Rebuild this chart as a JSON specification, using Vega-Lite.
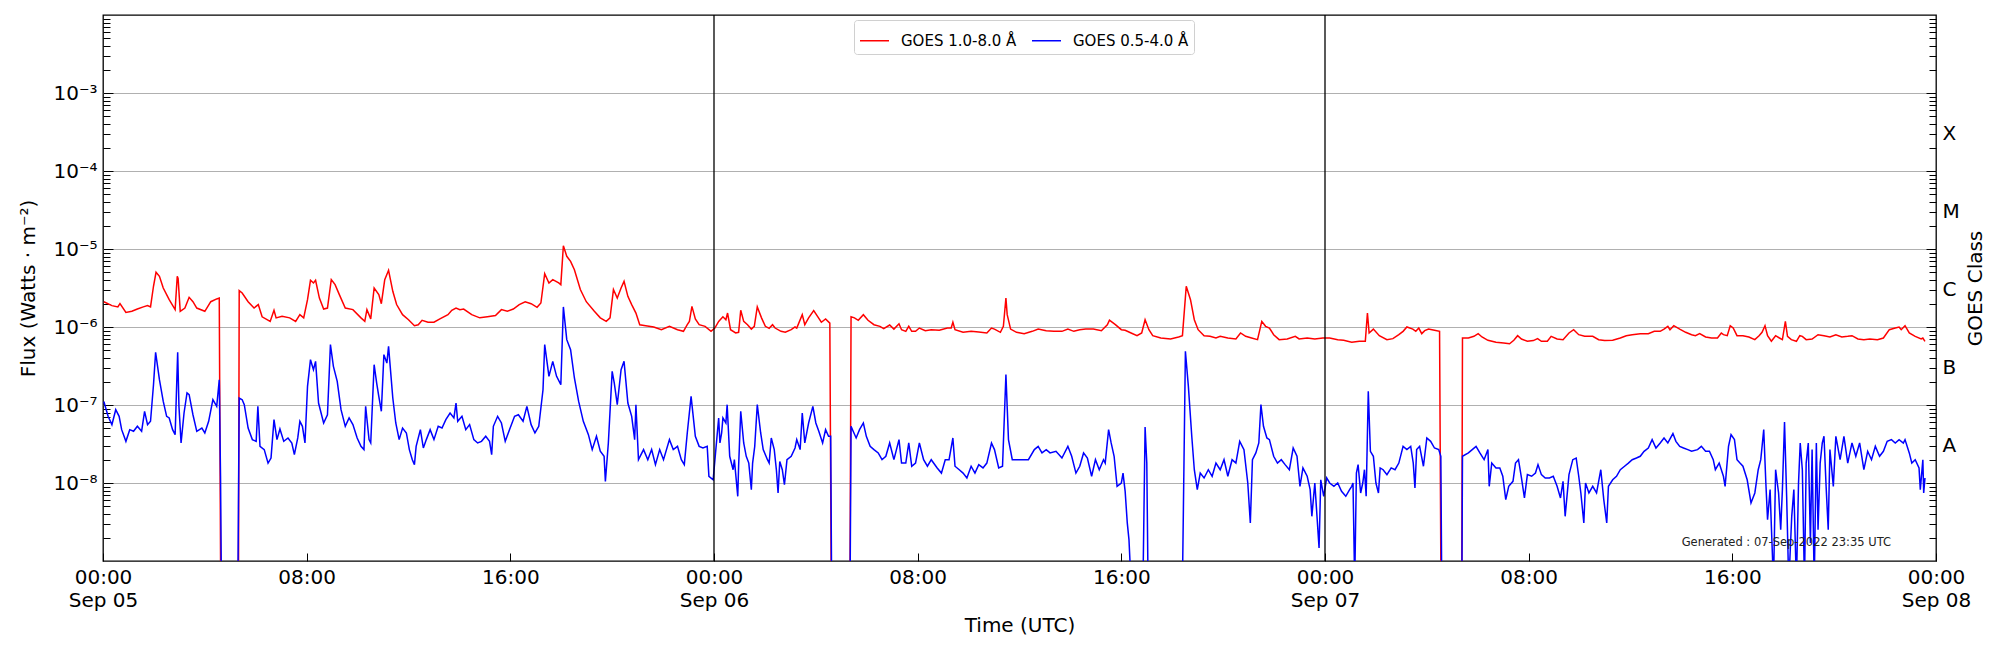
{
  "$schema": "https://vega.github.io/schema/vega-lite/v6.json",
  "width": 1833,
  "height": 546,
  "autosize": {"type": "none"},
  "padding": {"left": 103, "top": 15, "right": 64, "bottom": 89},
  "background": "white",
  "datasets": {
    "long": [
      {"t":"2022-09-05T00:02Z","f":2.11e-6},{"t":"2022-09-05T00:21Z","f":1.88e-6},{"t":"2022-09-05T00:35Z","f":1.81e-6},{"t":"2022-09-05T00:40Z","f":1.99e-6},
      {"t":"2022-09-05T00:54Z","f":1.54e-6},{"t":"2022-09-05T01:08Z","f":1.59e-6},{"t":"2022-09-05T01:21Z","f":1.70e-6},{"t":"2022-09-05T01:35Z","f":1.81e-6},
      {"t":"2022-09-05T01:45Z","f":1.88e-6},{"t":"2022-09-05T01:52Z","f":1.81e-6},{"t":"2022-09-05T01:59Z","f":3.33e-6},{"t":"2022-09-05T02:05Z","f":5.03e-6},
      {"t":"2022-09-05T02:13Z","f":4.47e-6},{"t":"2022-09-05T02:22Z","f":3.16e-6},{"t":"2022-09-05T02:36Z","f":2.24e-6},{"t":"2022-09-05T02:50Z","f":1.67e-6},
      {"t":"2022-09-05T02:55Z","f":4.47e-6},{"t":"2022-09-05T02:57Z","f":4.2e-6},{"t":"2022-09-05T03:02Z","f":1.59e-6},{"t":"2022-09-05T03:13Z","f":1.75e-6},
      {"t":"2022-09-05T03:23Z","f":2.40e-6},{"t":"2022-09-05T03:32Z","f":2.11e-6},{"t":"2022-09-05T03:41Z","f":1.75e-6},{"t":"2022-09-05T04:00Z","f":1.59e-6},
      {"t":"2022-09-05T04:14Z","f":2.11e-6},{"t":"2022-09-05T04:28Z","f":2.29e-6},{"t":"2022-09-05T04:34Z","f":2.35e-6},{"t":"2022-09-05T04:38Z","f":1e-10},
      {"t":"2022-09-05T05:19Z","f":1e-10},{"t":"2022-09-05T05:21Z","f":2.93e-6},{"t":"2022-09-05T05:28Z","f":2.73e-6},{"t":"2022-09-05T05:42Z","f":2.11e-6},
      {"t":"2022-09-05T05:56Z","f":1.75e-6},{"t":"2022-09-05T06:06Z","f":1.94e-6},{"t":"2022-09-05T06:15Z","f":1.35e-6},{"t":"2022-09-05T06:34Z","f":1.18e-6},
      {"t":"2022-09-05T06:43Z","f":1.64e-6},{"t":"2022-09-05T06:48Z","f":1.31e-6},{"t":"2022-09-05T07:02Z","f":1.37e-6},{"t":"2022-09-05T07:20Z","f":1.31e-6},
      {"t":"2022-09-05T07:34Z","f":1.18e-6},{"t":"2022-09-05T07:44Z","f":1.44e-6},{"t":"2022-09-05T07:53Z","f":1.31e-6},{"t":"2022-09-05T08:02Z","f":2.24e-6},
      {"t":"2022-09-05T08:09Z","f":3.97e-6},{"t":"2022-09-05T08:16Z","f":3.67e-6},{"t":"2022-09-05T08:21Z","f":3.97e-6},{"t":"2022-09-05T08:30Z","f":2.35e-6},
      {"t":"2022-09-05T08:40Z","f":1.70e-6},{"t":"2022-09-05T08:49Z","f":1.75e-6},{"t":"2022-09-05T08:58Z","f":4.05e-6},{"t":"2022-09-05T09:07Z","f":3.49e-6},
      {"t":"2022-09-05T09:17Z","f":2.60e-6},{"t":"2022-09-05T09:31Z","f":1.75e-6},{"t":"2022-09-05T09:49Z","f":1.67e-6},{"t":"2022-09-05T10:08Z","f":1.31e-6},
      {"t":"2022-09-05T10:17Z","f":1.18e-6},{"t":"2022-09-05T10:22Z","f":1.67e-6},{"t":"2022-09-05T10:31Z","f":1.27e-6},{"t":"2022-09-05T10:39Z","f":3.16e-6},
      {"t":"2022-09-05T10:50Z","f":2.60e-6},{"t":"2022-09-05T10:56Z","f":1.99e-6},{"t":"2022-09-05T11:04Z","f":4.05e-6},{"t":"2022-09-05T11:13Z","f":5.33e-6},
      {"t":"2022-09-05T11:23Z","f":2.87e-6},{"t":"2022-09-05T11:32Z","f":1.94e-6},{"t":"2022-09-05T11:46Z","f":1.44e-6},{"t":"2022-09-05T12:00Z","f":1.24e-6},
      {"t":"2022-09-05T12:14Z","f":1.04e-6},{"t":"2022-09-05T12:23Z","f":1.07e-6},{"t":"2022-09-05T12:32Z","f":1.22e-6},{"t":"2022-09-05T12:46Z","f":1.15e-6},
      {"t":"2022-09-05T13:00Z","f":1.15e-6},{"t":"2022-09-05T13:14Z","f":1.27e-6},{"t":"2022-09-05T13:33Z","f":1.44e-6},{"t":"2022-09-05T13:42Z","f":1.64e-6},
      {"t":"2022-09-05T13:52Z","f":1.75e-6},{"t":"2022-09-05T14:01Z","f":1.67e-6},{"t":"2022-09-05T14:10Z","f":1.70e-6},{"t":"2022-09-05T14:29Z","f":1.44e-6},
      {"t":"2022-09-05T14:48Z","f":1.31e-6},{"t":"2022-09-05T15:06Z","f":1.35e-6},{"t":"2022-09-05T15:25Z","f":1.40e-6},{"t":"2022-09-05T15:39Z","f":1.67e-6},
      {"t":"2022-09-05T15:53Z","f":1.59e-6},{"t":"2022-09-05T16:07Z","f":1.70e-6},{"t":"2022-09-05T16:21Z","f":1.94e-6},{"t":"2022-09-05T16:35Z","f":2.11e-6},
      {"t":"2022-09-05T16:49Z","f":1.99e-6},{"t":"2022-09-05T17:03Z","f":1.79e-6},{"t":"2022-09-05T17:12Z","f":2.03e-6},{"t":"2022-09-05T17:21Z","f":4.83e-6},
      {"t":"2022-09-05T17:31Z","f":3.67e-6},{"t":"2022-09-05T17:40Z","f":4.05e-6},{"t":"2022-09-05T17:54Z","f":3.67e-6},{"t":"2022-09-05T17:59Z","f":3.49e-6},
      {"t":"2022-09-05T18:05Z","f":1.10e-5},{"t":"2022-09-05T18:13Z","f":8.06e-6},{"t":"2022-09-05T18:22Z","f":6.95e-6},{"t":"2022-09-05T18:31Z","f":5.43e-6},
      {"t":"2022-09-05T18:45Z","f":3.02e-6},{"t":"2022-09-05T18:59Z","f":2.11e-6},{"t":"2022-09-05T19:18Z","f":1.59e-6},{"t":"2022-09-05T19:32Z","f":1.31e-6},
      {"t":"2022-09-05T19:46Z","f":1.18e-6},{"t":"2022-09-05T19:55Z","f":1.31e-6},{"t":"2022-09-05T20:03Z","f":3.02e-6},{"t":"2022-09-05T20:12Z","f":2.35e-6},
      {"t":"2022-09-05T20:21Z","f":3.16e-6},{"t":"2022-09-05T20:28Z","f":3.85e-6},{"t":"2022-09-05T20:37Z","f":2.47e-6},{"t":"2022-09-05T20:46Z","f":1.94e-6},
      {"t":"2022-09-05T20:56Z","f":1.51e-6},{"t":"2022-09-05T21:05Z","f":1.07e-6},{"t":"2022-09-05T21:19Z","f":1.04e-6},{"t":"2022-09-05T21:38Z","f":1.00e-6},
      {"t":"2022-09-05T21:56Z","f":9.24e-7},{"t":"2022-09-05T22:15Z","f":1.02e-6},{"t":"2022-09-05T22:34Z","f":9.24e-7},{"t":"2022-09-05T22:48Z","f":8.8e-7},
      {"t":"2022-09-05T22:57Z","f":1.07e-6},{"t":"2022-09-05T23:02Z","f":1.18e-6},{"t":"2022-09-05T23:08Z","f":1.84e-6},{"t":"2022-09-05T23:16Z","f":1.27e-6},
      {"t":"2022-09-05T23:25Z","f":1.07e-6},{"t":"2022-09-05T23:39Z","f":1.02e-6},{"t":"2022-09-05T23:53Z","f":8.8e-7},{"t":"2022-09-06T00:02Z","f":9.7e-7},
      {"t":"2022-09-06T00:11Z","f":1.18e-6},{"t":"2022-09-06T00:21Z","f":1.35e-6},{"t":"2022-09-06T00:28Z","f":1.24e-6},{"t":"2022-09-06T00:32Z","f":1.51e-6},
      {"t":"2022-09-06T00:39Z","f":9.24e-7},{"t":"2022-09-06T00:51Z","f":8.38e-7},{"t":"2022-09-06T00:58Z","f":8.55e-7},{"t":"2022-09-06T01:03Z","f":1.64e-6},
      {"t":"2022-09-06T01:10Z","f":1.18e-6},{"t":"2022-09-06T01:19Z","f":1.07e-6},{"t":"2022-09-06T01:28Z","f":9.4e-7},{"t":"2022-09-06T01:35Z","f":1.02e-6},
      {"t":"2022-09-06T01:42Z","f":1.81e-6},{"t":"2022-09-06T01:52Z","f":1.31e-6},{"t":"2022-09-06T02:01Z","f":1.02e-6},{"t":"2022-09-06T02:10Z","f":9.6e-7},
      {"t":"2022-09-06T02:18Z","f":1.07e-6},{"t":"2022-09-06T02:24Z","f":9.7e-7},{"t":"2022-09-06T02:38Z","f":8.8e-7},{"t":"2022-09-06T02:48Z","f":8.55e-7},
      {"t":"2022-09-06T03:02Z","f":9.24e-7},{"t":"2022-09-06T03:11Z","f":1.0e-6},{"t":"2022-09-06T03:15Z","f":9.7e-7},{"t":"2022-09-06T03:28Z","f":1.44e-6},
      {"t":"2022-09-06T03:34Z","f":1.07e-6},{"t":"2022-09-06T03:43Z","f":1.31e-6},{"t":"2022-09-06T03:55Z","f":1.62e-6},{"t":"2022-09-06T04:04Z","f":1.37e-6},
      {"t":"2022-09-06T04:13Z","f":1.15e-6},{"t":"2022-09-06T04:23Z","f":1.27e-6},{"t":"2022-09-06T04:33Z","f":1.12e-6},{"t":"2022-09-06T04:37Z","f":1e-10},
      {"t":"2022-09-06T05:20Z","f":1e-10},{"t":"2022-09-06T05:23Z","f":1.35e-6},{"t":"2022-09-06T05:31Z","f":1.31e-6},{"t":"2022-09-06T05:40Z","f":1.22e-6},
      {"t":"2022-09-06T05:52Z","f":1.44e-6},{"t":"2022-09-06T06:03Z","f":1.22e-6},{"t":"2022-09-06T06:17Z","f":1.07e-6},{"t":"2022-09-06T06:31Z","f":1.02e-6},
      {"t":"2022-09-06T06:40Z","f":9.5e-7},{"t":"2022-09-06T06:54Z","f":1.06e-6},{"t":"2022-09-06T07:04Z","f":9.4e-7},{"t":"2022-09-06T07:16Z","f":1.10e-6},
      {"t":"2022-09-06T07:22Z","f":9.24e-7},{"t":"2022-09-06T07:32Z","f":8.8e-7},{"t":"2022-09-06T07:39Z","f":1.02e-6},{"t":"2022-09-06T07:46Z","f":8.8e-7},
      {"t":"2022-09-06T07:55Z","f":8.8e-7},{"t":"2022-09-06T08:04Z","f":9.7e-7},{"t":"2022-09-06T08:18Z","f":8.97e-7},{"t":"2022-09-06T08:32Z","f":9.24e-7},
      {"t":"2022-09-06T08:51Z","f":9.06e-7},{"t":"2022-09-06T09:10Z","f":9.7e-7},{"t":"2022-09-06T09:19Z","f":9.7e-7},{"t":"2022-09-06T09:23Z","f":1.15e-6},
      {"t":"2022-09-06T09:28Z","f":9.24e-7},{"t":"2022-09-06T09:47Z","f":8.55e-7},{"t":"2022-09-06T10:06Z","f":8.8e-7},{"t":"2022-09-06T10:24Z","f":8.6e-7},
      {"t":"2022-09-06T10:43Z","f":8.38e-7},{"t":"2022-09-06T10:54Z","f":9.7e-7},{"t":"2022-09-06T11:01Z","f":9.4e-7},{"t":"2022-09-06T11:15Z","f":8.55e-7},
      {"t":"2022-09-06T11:22Z","f":1.02e-6},{"t":"2022-09-06T11:28Z","f":2.35e-6},{"t":"2022-09-06T11:31Z","f":1.44e-6},{"t":"2022-09-06T11:39Z","f":9.4e-7},
      {"t":"2022-09-06T11:53Z","f":8.55e-7},{"t":"2022-09-06T12:11Z","f":8.22e-7},{"t":"2022-09-06T12:30Z","f":8.8e-7},{"t":"2022-09-06T12:44Z","f":9.4e-7},
      {"t":"2022-09-06T13:03Z","f":8.97e-7},{"t":"2022-09-06T13:21Z","f":8.8e-7},{"t":"2022-09-06T13:40Z","f":8.8e-7},{"t":"2022-09-06T13:54Z","f":9.4e-7},
      {"t":"2022-09-06T14:08Z","f":8.8e-7},{"t":"2022-09-06T14:22Z","f":9.24e-7},{"t":"2022-09-06T14:36Z","f":9.4e-7},{"t":"2022-09-06T14:54Z","f":9.4e-7},
      {"t":"2022-09-06T15:13Z","f":8.97e-7},{"t":"2022-09-06T15:27Z","f":1.07e-6},{"t":"2022-09-06T15:32Z","f":1.22e-6},{"t":"2022-09-06T15:46Z","f":1.07e-6},
      {"t":"2022-09-06T16:00Z","f":9.24e-7},{"t":"2022-09-06T16:09Z","f":9.06e-7},{"t":"2022-09-06T16:23Z","f":8.38e-7},{"t":"2022-09-06T16:37Z","f":7.74e-7},
      {"t":"2022-09-06T16:48Z","f":8.38e-7},{"t":"2022-09-06T16:56Z","f":1.24e-6},{"t":"2022-09-06T17:05Z","f":9.24e-7},{"t":"2022-09-06T17:14Z","f":7.74e-7},
      {"t":"2022-09-06T17:33Z","f":7.23e-7},{"t":"2022-09-06T17:56Z","f":7.02e-7},{"t":"2022-09-06T18:15Z","f":7.45e-7},{"t":"2022-09-06T18:24Z","f":7.74e-7},
      {"t":"2022-09-06T18:33Z","f":3.33e-6},{"t":"2022-09-06T18:43Z","f":2.24e-6},{"t":"2022-09-06T18:52Z","f":1.24e-6},{"t":"2022-09-06T19:01Z","f":9.24e-7},
      {"t":"2022-09-06T19:15Z","f":7.74e-7},{"t":"2022-09-06T19:29Z","f":7.59e-7},{"t":"2022-09-06T19:43Z","f":7.23e-7},{"t":"2022-09-06T19:53Z","f":7.59e-7},
      {"t":"2022-09-06T20:11Z","f":7.23e-7},{"t":"2022-09-06T20:30Z","f":7.02e-7},{"t":"2022-09-06T20:41Z","f":8.38e-7},{"t":"2022-09-06T20:53Z","f":7.59e-7},
      {"t":"2022-09-06T21:07Z","f":7.23e-7},{"t":"2022-09-06T21:21Z","f":6.88e-7},{"t":"2022-09-06T21:31Z","f":1.18e-6},{"t":"2022-09-06T21:40Z","f":1.02e-6},
      {"t":"2022-09-06T21:49Z","f":9.7e-7},{"t":"2022-09-06T21:59Z","f":7.97e-7},{"t":"2022-09-06T22:12Z","f":6.88e-7},{"t":"2022-09-06T22:31Z","f":7.02e-7},
      {"t":"2022-09-06T22:50Z","f":7.59e-7},{"t":"2022-09-06T22:59Z","f":7.02e-7},{"t":"2022-09-06T23:18Z","f":7.23e-7},{"t":"2022-09-06T23:36Z","f":7.02e-7},
      {"t":"2022-09-06T23:55Z","f":7.23e-7},{"t":"2022-09-07T00:11Z","f":7.23e-7},{"t":"2022-09-07T00:30Z","f":6.88e-7},{"t":"2022-09-07T00:44Z","f":6.75e-7},
      {"t":"2022-09-07T01:03Z","f":6.37e-7},{"t":"2022-09-07T01:21Z","f":6.56e-7},{"t":"2022-09-07T01:35Z","f":6.56e-7},{"t":"2022-09-07T01:40Z","f":1.51e-6},
      {"t":"2022-09-07T01:44Z","f":8.38e-7},{"t":"2022-09-07T01:54Z","f":9.4e-7},{"t":"2022-09-07T02:08Z","f":7.74e-7},{"t":"2022-09-07T02:26Z","f":6.88e-7},
      {"t":"2022-09-07T02:40Z","f":7.09e-7},{"t":"2022-09-07T02:54Z","f":7.97e-7},{"t":"2022-09-07T03:04Z","f":8.8e-7},{"t":"2022-09-07T03:13Z","f":1.0e-6},
      {"t":"2022-09-07T03:27Z","f":9.4e-7},{"t":"2022-09-07T03:34Z","f":8.8e-7},{"t":"2022-09-07T03:41Z","f":9.7e-7},{"t":"2022-09-07T03:48Z","f":8.22e-7},
      {"t":"2022-09-07T03:55Z","f":8.97e-7},{"t":"2022-09-07T04:04Z","f":9.4e-7},{"t":"2022-09-07T04:18Z","f":9.06e-7},{"t":"2022-09-07T04:30Z","f":8.8e-7},
      {"t":"2022-09-07T04:34Z","f":1e-10},{"t":"2022-09-07T05:22Z","f":1e-10},{"t":"2022-09-07T05:24Z","f":7.23e-7},{"t":"2022-09-07T05:38Z","f":7.23e-7},
      {"t":"2022-09-07T05:51Z","f":7.59e-7},{"t":"2022-09-07T06:01Z","f":8.22e-7},{"t":"2022-09-07T06:10Z","f":7.45e-7},{"t":"2022-09-07T06:24Z","f":6.75e-7},
      {"t":"2022-09-07T06:43Z","f":6.37e-7},{"t":"2022-09-07T07:01Z","f":6.24e-7},{"t":"2022-09-07T07:15Z","f":6.1e-7},{"t":"2022-09-07T07:25Z","f":6.75e-7},
      {"t":"2022-09-07T07:34Z","f":7.74e-7},{"t":"2022-09-07T07:43Z","f":7.02e-7},{"t":"2022-09-07T07:57Z","f":6.56e-7},{"t":"2022-09-07T08:11Z","f":6.7e-7},
      {"t":"2022-09-07T08:21Z","f":7.09e-7},{"t":"2022-09-07T08:30Z","f":6.56e-7},{"t":"2022-09-07T08:44Z","f":6.56e-7},{"t":"2022-09-07T08:53Z","f":7.59e-7},
      {"t":"2022-09-07T09:07Z","f":7.02e-7},{"t":"2022-09-07T09:21Z","f":6.88e-7},{"t":"2022-09-07T09:35Z","f":8.38e-7},{"t":"2022-09-07T09:46Z","f":9.24e-7},
      {"t":"2022-09-07T09:58Z","f":7.97e-7},{"t":"2022-09-07T10:12Z","f":7.59e-7},{"t":"2022-09-07T10:31Z","f":7.59e-7},{"t":"2022-09-07T10:45Z","f":6.88e-7},
      {"t":"2022-09-07T10:59Z","f":6.7e-7},{"t":"2022-09-07T11:18Z","f":6.75e-7},{"t":"2022-09-07T11:36Z","f":7.23e-7},{"t":"2022-09-07T11:50Z","f":7.74e-7},
      {"t":"2022-09-07T12:04Z","f":7.97e-7},{"t":"2022-09-07T12:23Z","f":8.22e-7},{"t":"2022-09-07T12:42Z","f":8.22e-7},{"t":"2022-09-07T12:56Z","f":8.8e-7},
      {"t":"2022-09-07T13:10Z","f":8.8e-7},{"t":"2022-09-07T13:19Z","f":9.4e-7},{"t":"2022-09-07T13:28Z","f":1.02e-6},{"t":"2022-09-07T13:33Z","f":9.24e-7},
      {"t":"2022-09-07T13:42Z","f":1.04e-6},{"t":"2022-09-07T13:56Z","f":9.4e-7},{"t":"2022-09-07T14:10Z","f":8.55e-7},{"t":"2022-09-07T14:24Z","f":7.97e-7},
      {"t":"2022-09-07T14:33Z","f":7.74e-7},{"t":"2022-09-07T14:43Z","f":8.22e-7},{"t":"2022-09-07T14:57Z","f":7.45e-7},{"t":"2022-09-07T15:11Z","f":7.23e-7},
      {"t":"2022-09-07T15:25Z","f":7.23e-7},{"t":"2022-09-07T15:34Z","f":8.38e-7},{"t":"2022-09-07T15:39Z","f":7.97e-7},{"t":"2022-09-07T15:48Z","f":7.74e-7},
      {"t":"2022-09-07T15:55Z","f":1.04e-6},{"t":"2022-09-07T16:02Z","f":9.7e-7},{"t":"2022-09-07T16:11Z","f":7.74e-7},{"t":"2022-09-07T16:25Z","f":7.74e-7},
      {"t":"2022-09-07T16:39Z","f":7.45e-7},{"t":"2022-09-07T16:53Z","f":6.88e-7},{"t":"2022-09-07T17:03Z","f":7.74e-7},{"t":"2022-09-07T17:10Z","f":8.55e-7},
      {"t":"2022-09-07T17:17Z","f":1.04e-6},{"t":"2022-09-07T17:23Z","f":7.74e-7},{"t":"2022-09-07T17:32Z","f":6.56e-7},{"t":"2022-09-07T17:42Z","f":7.74e-7},
      {"t":"2022-09-07T17:51Z","f":7.23e-7},{"t":"2022-09-07T17:58Z","f":6.88e-7},{"t":"2022-09-07T18:05Z","f":1.18e-6},{"t":"2022-09-07T18:10Z","f":7.59e-7},
      {"t":"2022-09-07T18:19Z","f":6.88e-7},{"t":"2022-09-07T18:31Z","f":6.56e-7},{"t":"2022-09-07T18:39Z","f":7.74e-7},{"t":"2022-09-07T18:45Z","f":7.59e-7},
      {"t":"2022-09-07T18:54Z","f":6.88e-7},{"t":"2022-09-07T19:08Z","f":7.02e-7},{"t":"2022-09-07T19:22Z","f":7.97e-7},{"t":"2022-09-07T19:36Z","f":7.74e-7},
      {"t":"2022-09-07T19:50Z","f":7.45e-7},{"t":"2022-09-07T20:04Z","f":7.97e-7},{"t":"2022-09-07T20:18Z","f":7.45e-7},{"t":"2022-09-07T20:32Z","f":7.59e-7},
      {"t":"2022-09-07T20:42Z","f":7.74e-7},{"t":"2022-09-07T20:56Z","f":7.02e-7},{"t":"2022-09-07T21:10Z","f":6.88e-7},{"t":"2022-09-07T21:24Z","f":7.02e-7},
      {"t":"2022-09-07T21:42Z","f":6.88e-7},{"t":"2022-09-07T21:56Z","f":7.23e-7},{"t":"2022-09-07T22:10Z","f":9.24e-7},{"t":"2022-09-07T22:24Z","f":9.7e-7},
      {"t":"2022-09-07T22:33Z","f":1.0e-6},{"t":"2022-09-07T22:38Z","f":9.24e-7},{"t":"2022-09-07T22:47Z","f":1.04e-6},{"t":"2022-09-07T22:57Z","f":8.38e-7},
      {"t":"2022-09-07T23:11Z","f":7.59e-7},{"t":"2022-09-07T23:25Z","f":7.02e-7},{"t":"2022-09-07T23:29Z","f":7.23e-7},{"t":"2022-09-07T23:34Z","f":6.56e-7}
    ],
    "short": [
      {"t":"2022-09-05T00:02Z","f":1.11e-7},{"t":"2022-09-05T00:12Z","f":7.16e-8},{"t":"2022-09-05T00:21Z","f":5.6e-8},{"t":"2022-09-05T00:30Z","f":8.7e-8},
      {"t":"2022-09-05T00:38Z","f":7.16e-8},{"t":"2022-09-05T00:44Z","f":4.83e-8},{"t":"2022-09-05T00:54Z","f":3.42e-8},{"t":"2022-09-05T01:03Z","f":4.83e-8},
      {"t":"2022-09-05T01:12Z","f":4.6e-8},{"t":"2022-09-05T01:21Z","f":5.33e-8},{"t":"2022-09-05T01:31Z","f":4.6e-8},{"t":"2022-09-05T01:38Z","f":8.3e-8},
      {"t":"2022-09-05T01:45Z","f":5.6e-8},{"t":"2022-09-05T01:52Z","f":6.18e-8},{"t":"2022-09-05T01:59Z","f":1.82e-7},{"t":"2022-09-05T02:04Z","f":4.73e-7},
      {"t":"2022-09-05T02:13Z","f":2.11e-7},{"t":"2022-09-05T02:22Z","f":1.11e-7},{"t":"2022-09-05T02:30Z","f":7.16e-8},{"t":"2022-09-05T02:36Z","f":6.82e-8},
      {"t":"2022-09-05T02:44Z","f":4.83e-8},{"t":"2022-09-05T02:50Z","f":4.17e-8},{"t":"2022-09-05T02:56Z","f":4.73e-7},{"t":"2022-09-05T02:59Z","f":9.6e-8},
      {"t":"2022-09-05T03:04Z","f":3.26e-8},{"t":"2022-09-05T03:11Z","f":7.9e-8},{"t":"2022-09-05T03:18Z","f":1.43e-7},{"t":"2022-09-05T03:23Z","f":1.36e-7},
      {"t":"2022-09-05T03:32Z","f":7.5e-8},{"t":"2022-09-05T03:41Z","f":4.6e-8},{"t":"2022-09-05T03:53Z","f":5.07e-8},{"t":"2022-09-05T04:00Z","f":4.38e-8},
      {"t":"2022-09-05T04:09Z","f":6.18e-8},{"t":"2022-09-05T04:19Z","f":1.17e-7},{"t":"2022-09-05T04:28Z","f":9.6e-8},{"t":"2022-09-05T04:34Z","f":2.11e-7},
      {"t":"2022-09-05T04:37Z","f":1.22e-8},{"t":"2022-09-05T04:40Z","f":1e-10},{"t":"2022-09-05T05:17Z","f":1e-10},{"t":"2022-09-05T05:21Z","f":1.23e-7},
      {"t":"2022-09-05T05:28Z","f":1.17e-7},{"t":"2022-09-05T05:33Z","f":1.01e-7},{"t":"2022-09-05T05:42Z","f":5.07e-8},{"t":"2022-09-05T05:52Z","f":3.6e-8},
      {"t":"2022-09-05T06:01Z","f":3.42e-8},{"t":"2022-09-05T06:05Z","f":9.6e-8},{"t":"2022-09-05T06:10Z","f":2.95e-8},{"t":"2022-09-05T06:20Z","f":2.68e-8},
      {"t":"2022-09-05T06:29Z","f":1.8e-8},{"t":"2022-09-05T06:36Z","f":2.09e-8},{"t":"2022-09-05T06:43Z","f":6.49e-8},{"t":"2022-09-05T06:50Z","f":3.6e-8},
      {"t":"2022-09-05T06:57Z","f":4.93e-8},{"t":"2022-09-05T07:06Z","f":3.42e-8},{"t":"2022-09-05T07:16Z","f":3.78e-8},{"t":"2022-09-05T07:25Z","f":3.26e-8},
      {"t":"2022-09-05T07:31Z","f":2.31e-8},{"t":"2022-09-05T07:39Z","f":3.78e-8},{"t":"2022-09-05T07:44Z","f":6.18e-8},{"t":"2022-09-05T07:50Z","f":5.33e-8},
      {"t":"2022-09-05T07:56Z","f":3.26e-8},{"t":"2022-09-05T08:02Z","f":1.73e-7},{"t":"2022-09-05T08:09Z","f":3.81e-7},{"t":"2022-09-05T08:16Z","f":2.84e-7},
      {"t":"2022-09-05T08:21Z","f":3.63e-7},{"t":"2022-09-05T08:28Z","f":1.06e-7},{"t":"2022-09-05T08:40Z","f":5.88e-8},{"t":"2022-09-05T08:49Z","f":7.5e-8},
      {"t":"2022-09-05T08:56Z","f":5.94e-7},{"t":"2022-09-05T09:03Z","f":3.13e-7},{"t":"2022-09-05T09:12Z","f":2.01e-7},{"t":"2022-09-05T09:21Z","f":8.7e-8},
      {"t":"2022-09-05T09:31Z","f":5.33e-8},{"t":"2022-09-05T09:40Z","f":6.82e-8},{"t":"2022-09-05T09:49Z","f":5.6e-8},{"t":"2022-09-05T09:59Z","f":3.78e-8},
      {"t":"2022-09-05T10:08Z","f":2.95e-8},{"t":"2022-09-05T10:15Z","f":2.68e-8},{"t":"2022-09-05T10:19Z","f":9.6e-8},{"t":"2022-09-05T10:27Z","f":3.6e-8},
      {"t":"2022-09-05T10:31Z","f":3.26e-8},{"t":"2022-09-05T10:39Z","f":3.29e-7},{"t":"2022-09-05T10:45Z","f":1.91e-7},{"t":"2022-09-05T10:50Z","f":1.29e-7},
      {"t":"2022-09-05T10:56Z","f":8.3e-8},{"t":"2022-09-05T11:02Z","f":4.42e-7},{"t":"2022-09-05T11:09Z","f":3.45e-7},{"t":"2022-09-05T11:13Z","f":5.65e-7},
      {"t":"2022-09-05T11:23Z","f":1.23e-7},{"t":"2022-09-05T11:30Z","f":5.88e-8},{"t":"2022-09-05T11:38Z","f":3.6e-8},{"t":"2022-09-05T11:46Z","f":5.07e-8},
      {"t":"2022-09-05T11:55Z","f":4.38e-8},{"t":"2022-09-05T12:02Z","f":2.68e-8},{"t":"2022-09-05T12:09Z","f":1.99e-8},{"t":"2022-09-05T12:14Z","f":1.72e-8},
      {"t":"2022-09-05T12:18Z","f":2.95e-8},{"t":"2022-09-05T12:28Z","f":4.83e-8},{"t":"2022-09-05T12:35Z","f":2.81e-8},{"t":"2022-09-05T12:42Z","f":3.6e-8},
      {"t":"2022-09-05T12:51Z","f":4.83e-8},{"t":"2022-09-05T13:00Z","f":3.6e-8},{"t":"2022-09-05T13:10Z","f":5.33e-8},{"t":"2022-09-05T13:19Z","f":5.07e-8},
      {"t":"2022-09-05T13:28Z","f":6.49e-8},{"t":"2022-09-05T13:38Z","f":7.9e-8},{"t":"2022-09-05T13:47Z","f":6.82e-8},{"t":"2022-09-05T13:52Z","f":1.06e-7},
      {"t":"2022-09-05T13:56Z","f":6.18e-8},{"t":"2022-09-05T14:06Z","f":7.16e-8},{"t":"2022-09-05T14:15Z","f":4.83e-8},{"t":"2022-09-05T14:24Z","f":5.6e-8},
      {"t":"2022-09-05T14:34Z","f":3.6e-8},{"t":"2022-09-05T14:43Z","f":3.26e-8},{"t":"2022-09-05T14:52Z","f":3.42e-8},{"t":"2022-09-05T15:02Z","f":3.97e-8},
      {"t":"2022-09-05T15:11Z","f":3.42e-8},{"t":"2022-09-05T15:16Z","f":2.31e-8},{"t":"2022-09-05T15:20Z","f":5.33e-8},{"t":"2022-09-05T15:30Z","f":7.16e-8},
      {"t":"2022-09-05T15:39Z","f":5.88e-8},{"t":"2022-09-05T15:48Z","f":3.42e-8},{"t":"2022-09-05T15:58Z","f":4.83e-8},{"t":"2022-09-05T16:10Z","f":7.16e-8},
      {"t":"2022-09-05T16:19Z","f":7.5e-8},{"t":"2022-09-05T16:30Z","f":6.18e-8},{"t":"2022-09-05T16:39Z","f":9.6e-8},{"t":"2022-09-05T16:49Z","f":5.6e-8},
      {"t":"2022-09-05T16:58Z","f":4.38e-8},{"t":"2022-09-05T17:07Z","f":5.33e-8},{"t":"2022-09-05T17:17Z","f":1.57e-7},{"t":"2022-09-05T17:21Z","f":5.94e-7},
      {"t":"2022-09-05T17:31Z","f":2.33e-7},{"t":"2022-09-05T17:40Z","f":3.63e-7},{"t":"2022-09-05T17:49Z","f":2.33e-7},{"t":"2022-09-05T17:59Z","f":1.82e-7},
      {"t":"2022-09-05T18:05Z","f":1.81e-6},{"t":"2022-09-05T18:13Z","f":6.88e-7},{"t":"2022-09-05T18:22Z","f":5.12e-7},{"t":"2022-09-05T18:31Z","f":2.22e-7},
      {"t":"2022-09-05T18:41Z","f":1.11e-7},{"t":"2022-09-05T18:52Z","f":6.18e-8},{"t":"2022-09-05T19:04Z","f":4.17e-8},{"t":"2022-09-05T19:13Z","f":2.68e-8},
      {"t":"2022-09-05T19:23Z","f":3.97e-8},{"t":"2022-09-05T19:32Z","f":2.55e-8},{"t":"2022-09-05T19:41Z","f":2.2e-8},{"t":"2022-09-05T19:44Z","f":1.05e-8},
      {"t":"2022-09-05T19:51Z","f":3.26e-8},{"t":"2022-09-05T20:00Z","f":2.7e-7},{"t":"2022-09-05T20:05Z","f":1.91e-7},{"t":"2022-09-05T20:12Z","f":1.01e-7},
      {"t":"2022-09-05T20:21Z","f":2.84e-7},{"t":"2022-09-05T20:28Z","f":3.63e-7},{"t":"2022-09-05T20:37Z","f":1.06e-7},{"t":"2022-09-05T20:46Z","f":7.16e-8},
      {"t":"2022-09-05T20:53Z","f":3.6e-8},{"t":"2022-09-05T20:56Z","f":1.01e-7},{"t":"2022-09-05T21:02Z","f":1.99e-8},{"t":"2022-09-05T21:14Z","f":2.68e-8},
      {"t":"2022-09-05T21:24Z","f":1.99e-8},{"t":"2022-09-05T21:33Z","f":2.68e-8},{"t":"2022-09-05T21:42Z","f":1.72e-8},{"t":"2022-09-05T21:52Z","f":2.68e-8},
      {"t":"2022-09-05T22:01Z","f":1.99e-8},{"t":"2022-09-05T22:15Z","f":3.6e-8},{"t":"2022-09-05T22:24Z","f":2.68e-8},{"t":"2022-09-05T22:34Z","f":2.95e-8},
      {"t":"2022-09-05T22:43Z","f":1.99e-8},{"t":"2022-09-05T22:50Z","f":1.72e-8},{"t":"2022-09-05T22:57Z","f":4.38e-8},{"t":"2022-09-05T23:06Z","f":1.29e-7},
      {"t":"2022-09-05T23:16Z","f":3.97e-8},{"t":"2022-09-05T23:25Z","f":2.95e-8},{"t":"2022-09-05T23:34Z","f":2.81e-8},{"t":"2022-09-05T23:44Z","f":2.95e-8},
      {"t":"2022-09-05T23:48Z","f":1.22e-8},{"t":"2022-09-05T23:58Z","f":1.1e-8},{"t":"2022-09-06T00:05Z","f":2.95e-8},{"t":"2022-09-06T00:11Z","f":6.82e-8},
      {"t":"2022-09-06T00:14Z","f":3.26e-8},{"t":"2022-09-06T00:18Z","f":4.38e-8},{"t":"2022-09-06T00:21Z","f":6.82e-8},{"t":"2022-09-06T00:28Z","f":5.88e-8},
      {"t":"2022-09-06T00:31Z","f":1.01e-7},{"t":"2022-09-06T00:37Z","f":2.2e-8},{"t":"2022-09-06T00:45Z","f":1.48e-8},{"t":"2022-09-06T00:48Z","f":1.99e-8},
      {"t":"2022-09-06T00:56Z","f":6.75e-9},{"t":"2022-09-06T00:58Z","f":1.64e-8},{"t":"2022-09-06T01:03Z","f":8.3e-8},{"t":"2022-09-06T01:10Z","f":3.26e-8},
      {"t":"2022-09-06T01:16Z","f":2.2e-8},{"t":"2022-09-06T01:22Z","f":1.8e-8},{"t":"2022-09-06T01:28Z","f":8.22e-9},{"t":"2022-09-06T01:31Z","f":1.8e-8},
      {"t":"2022-09-06T01:36Z","f":2.95e-8},{"t":"2022-09-06T01:42Z","f":1.01e-7},{"t":"2022-09-06T01:50Z","f":4.38e-8},{"t":"2022-09-06T01:56Z","f":2.68e-8},
      {"t":"2022-09-06T02:06Z","f":1.99e-8},{"t":"2022-09-06T02:10Z","f":1.8e-8},{"t":"2022-09-06T02:15Z","f":3.78e-8},{"t":"2022-09-06T02:22Z","f":2.68e-8},
      {"t":"2022-09-06T02:27Z","f":1.48e-8},{"t":"2022-09-06T02:31Z","f":7.45e-9},{"t":"2022-09-06T02:35Z","f":1.89e-8},{"t":"2022-09-06T02:41Z","f":1.48e-8},
      {"t":"2022-09-06T02:46Z","f":9.5e-9},{"t":"2022-09-06T02:52Z","f":1.99e-8},{"t":"2022-09-06T03:02Z","f":2.2e-8},{"t":"2022-09-06T03:11Z","f":2.81e-8},
      {"t":"2022-09-06T03:15Z","f":3.6e-8},{"t":"2022-09-06T03:23Z","f":2.68e-8},{"t":"2022-09-06T03:28Z","f":7.9e-8},{"t":"2022-09-06T03:34Z","f":3.26e-8},
      {"t":"2022-09-06T03:43Z","f":5.88e-8},{"t":"2022-09-06T03:53Z","f":9.6e-8},{"t":"2022-09-06T04:00Z","f":5.88e-8},{"t":"2022-09-06T04:07Z","f":4.6e-8},
      {"t":"2022-09-06T04:16Z","f":3.26e-8},{"t":"2022-09-06T04:23Z","f":4.83e-8},{"t":"2022-09-06T04:30Z","f":3.97e-8},{"t":"2022-09-06T04:35Z","f":3.97e-8},
      {"t":"2022-09-06T04:38Z","f":1e-10},{"t":"2022-09-06T05:20Z","f":1e-10},{"t":"2022-09-06T05:23Z","f":5.33e-8},{"t":"2022-09-06T05:28Z","f":4.6e-8},
      {"t":"2022-09-06T05:35Z","f":3.78e-8},{"t":"2022-09-06T05:43Z","f":4.83e-8},{"t":"2022-09-06T05:52Z","f":5.88e-8},{"t":"2022-09-06T05:59Z","f":3.97e-8},
      {"t":"2022-09-06T06:08Z","f":2.95e-8},{"t":"2022-09-06T06:17Z","f":2.68e-8},{"t":"2022-09-06T06:27Z","f":2.43e-8},{"t":"2022-09-06T06:36Z","f":1.99e-8},
      {"t":"2022-09-06T06:45Z","f":2.2e-8},{"t":"2022-09-06T06:54Z","f":3.26e-8},{"t":"2022-09-06T07:04Z","f":1.99e-8},{"t":"2022-09-06T07:16Z","f":3.6e-8},
      {"t":"2022-09-06T07:22Z","f":1.8e-8},{"t":"2022-09-06T07:32Z","f":1.8e-8},{"t":"2022-09-06T07:39Z","f":3.26e-8},{"t":"2022-09-06T07:46Z","f":1.64e-8},
      {"t":"2022-09-06T07:55Z","f":1.8e-8},{"t":"2022-09-06T08:04Z","f":3.26e-8},{"t":"2022-09-06T08:14Z","f":1.99e-8},{"t":"2022-09-06T08:23Z","f":1.64e-8},
      {"t":"2022-09-06T08:32Z","f":1.99e-8},{"t":"2022-09-06T08:46Z","f":1.56e-8},{"t":"2022-09-06T08:56Z","f":1.34e-8},{"t":"2022-09-06T09:05Z","f":1.99e-8},
      {"t":"2022-09-06T09:14Z","f":1.99e-8},{"t":"2022-09-06T09:23Z","f":3.78e-8},{"t":"2022-09-06T09:28Z","f":1.64e-8},{"t":"2022-09-06T09:38Z","f":1.48e-8},
      {"t":"2022-09-06T09:47Z","f":1.34e-8},{"t":"2022-09-06T09:56Z","f":1.16e-8},{"t":"2022-09-06T10:06Z","f":1.64e-8},{"t":"2022-09-06T10:15Z","f":1.34e-8},
      {"t":"2022-09-06T10:24Z","f":1.72e-8},{"t":"2022-09-06T10:34Z","f":1.56e-8},{"t":"2022-09-06T10:43Z","f":1.8e-8},{"t":"2022-09-06T10:54Z","f":3.26e-8},
      {"t":"2022-09-06T11:01Z","f":2.68e-8},{"t":"2022-09-06T11:11Z","f":1.56e-8},{"t":"2022-09-06T11:20Z","f":1.64e-8},{"t":"2022-09-06T11:28Z","f":2.45e-7},
      {"t":"2022-09-06T11:34Z","f":3.6e-8},{"t":"2022-09-06T11:43Z","f":1.99e-8},{"t":"2022-09-06T11:53Z","f":1.99e-8},{"t":"2022-09-06T12:07Z","f":1.99e-8},
      {"t":"2022-09-06T12:21Z","f":1.99e-8},{"t":"2022-09-06T12:35Z","f":2.68e-8},{"t":"2022-09-06T12:44Z","f":2.95e-8},{"t":"2022-09-06T12:53Z","f":2.43e-8},
      {"t":"2022-09-06T13:03Z","f":2.68e-8},{"t":"2022-09-06T13:12Z","f":2.43e-8},{"t":"2022-09-06T13:26Z","f":2.55e-8},{"t":"2022-09-06T13:40Z","f":2.09e-8},
      {"t":"2022-09-06T13:54Z","f":2.95e-8},{"t":"2022-09-06T14:03Z","f":2.2e-8},{"t":"2022-09-06T14:13Z","f":1.34e-8},{"t":"2022-09-06T14:22Z","f":1.64e-8},
      {"t":"2022-09-06T14:31Z","f":2.43e-8},{"t":"2022-09-06T14:40Z","f":2.09e-8},{"t":"2022-09-06T14:50Z","f":1.22e-8},{"t":"2022-09-06T14:59Z","f":1.99e-8},
      {"t":"2022-09-06T15:08Z","f":1.48e-8},{"t":"2022-09-06T15:18Z","f":1.99e-8},{"t":"2022-09-06T15:22Z","f":1.8e-8},{"t":"2022-09-06T15:30Z","f":4.83e-8},
      {"t":"2022-09-06T15:36Z","f":3.26e-8},{"t":"2022-09-06T15:43Z","f":2.2e-8},{"t":"2022-09-06T15:50Z","f":9.06e-9},{"t":"2022-09-06T16:00Z","f":1e-8},
      {"t":"2022-09-06T16:04Z","f":1.34e-8},{"t":"2022-09-06T16:09Z","f":7.82e-9},{"t":"2022-09-06T16:14Z","f":3.08e-9},{"t":"2022-09-06T16:18Z","f":1.88e-9},
      {"t":"2022-09-06T16:23Z","f":5e-10},{"t":"2022-09-06T16:51Z","f":5e-10},{"t":"2022-09-06T16:56Z","f":5.23e-8},{"t":"2022-09-06T17:00Z","f":1.8e-8},
      {"t":"2022-09-06T17:03Z","f":5e-10},{"t":"2022-09-06T18:24Z","f":5e-10},{"t":"2022-09-06T18:31Z","f":4.88e-7},{"t":"2022-09-06T18:38Z","f":1.73e-7},
      {"t":"2022-09-06T18:46Z","f":3.97e-8},{"t":"2022-09-06T18:52Z","f":1.48e-8},{"t":"2022-09-06T18:59Z","f":8.22e-9},{"t":"2022-09-06T19:06Z","f":1.34e-8},
      {"t":"2022-09-06T19:15Z","f":1.16e-8},{"t":"2022-09-06T19:25Z","f":1.48e-8},{"t":"2022-09-06T19:34Z","f":1.22e-8},{"t":"2022-09-06T19:43Z","f":1.8e-8},
      {"t":"2022-09-06T19:53Z","f":1.48e-8},{"t":"2022-09-06T20:02Z","f":1.99e-8},{"t":"2022-09-06T20:11Z","f":1.22e-8},{"t":"2022-09-06T20:21Z","f":1.99e-8},
      {"t":"2022-09-06T20:30Z","f":1.8e-8},{"t":"2022-09-06T20:39Z","f":3.42e-8},{"t":"2022-09-06T20:49Z","f":2.68e-8},{"t":"2022-09-06T20:58Z","f":1e-8},
      {"t":"2022-09-06T21:04Z","f":3.08e-9},{"t":"2022-09-06T21:09Z","f":1.99e-8},{"t":"2022-09-06T21:17Z","f":2.43e-8},{"t":"2022-09-06T21:24Z","f":3.26e-8},
      {"t":"2022-09-06T21:29Z","f":1.01e-7},{"t":"2022-09-06T21:35Z","f":5.33e-8},{"t":"2022-09-06T21:43Z","f":3.78e-8},{"t":"2022-09-06T21:49Z","f":3.6e-8},
      {"t":"2022-09-06T21:59Z","f":2.2e-8},{"t":"2022-09-06T22:08Z","f":1.8e-8},{"t":"2022-09-06T22:17Z","f":1.99e-8},{"t":"2022-09-06T22:26Z","f":1.72e-8},
      {"t":"2022-09-06T22:36Z","f":1.48e-8},{"t":"2022-09-06T22:45Z","f":2.81e-8},{"t":"2022-09-06T22:54Z","f":2.2e-8},{"t":"2022-09-06T23:01Z","f":9.06e-9},
      {"t":"2022-09-06T23:08Z","f":1.56e-8},{"t":"2022-09-06T23:18Z","f":1.22e-8},{"t":"2022-09-06T23:25Z","f":8.22e-9},{"t":"2022-09-06T23:29Z","f":3.74e-9},
      {"t":"2022-09-06T23:36Z","f":1e-8},{"t":"2022-09-06T23:46Z","f":1.47e-9},{"t":"2022-09-06T23:50Z","f":1.1e-8},{"t":"2022-09-06T23:57Z","f":6.75e-9},
      {"t":"2022-09-07T00:04Z","f":1.16e-8},{"t":"2022-09-07T00:11Z","f":1e-8},{"t":"2022-09-07T00:21Z","f":9.06e-9},{"t":"2022-09-07T00:30Z","f":1e-8},
      {"t":"2022-09-07T00:39Z","f":7.82e-9},{"t":"2022-09-07T00:49Z","f":6.75e-9},{"t":"2022-09-07T00:58Z","f":8.22e-9},{"t":"2022-09-07T01:03Z","f":9.06e-9},
      {"t":"2022-09-07T01:06Z","f":1e-8},{"t":"2022-09-07T01:10Z","f":5e-10},{"t":"2022-09-07T01:14Z","f":1.34e-8},{"t":"2022-09-07T01:18Z","f":1.72e-8},
      {"t":"2022-09-07T01:24Z","f":7.45e-9},{"t":"2022-09-07T01:29Z","f":1e-8},{"t":"2022-09-07T01:33Z","f":1.48e-8},{"t":"2022-09-07T01:37Z","f":6.75e-9},
      {"t":"2022-09-07T01:42Z","f":1.5e-7},{"t":"2022-09-07T01:47Z","f":2.55e-8},{"t":"2022-09-07T01:54Z","f":2.2e-8},{"t":"2022-09-07T02:00Z","f":1e-8},
      {"t":"2022-09-07T02:06Z","f":7.45e-9},{"t":"2022-09-07T02:10Z","f":1.56e-8},{"t":"2022-09-07T02:17Z","f":1.48e-8},{"t":"2022-09-07T02:26Z","f":1.28e-8},
      {"t":"2022-09-07T02:36Z","f":1.56e-8},{"t":"2022-09-07T02:45Z","f":1.48e-8},{"t":"2022-09-07T02:54Z","f":1.8e-8},{"t":"2022-09-07T03:04Z","f":2.95e-8},
      {"t":"2022-09-07T03:13Z","f":2.68e-8},{"t":"2022-09-07T03:22Z","f":2.95e-8},{"t":"2022-09-07T03:28Z","f":1.8e-8},{"t":"2022-09-07T03:32Z","f":8.63e-9},
      {"t":"2022-09-07T03:36Z","f":2.68e-8},{"t":"2022-09-07T03:43Z","f":2.95e-8},{"t":"2022-09-07T03:52Z","f":1.64e-8},{"t":"2022-09-07T04:00Z","f":3.78e-8},
      {"t":"2022-09-07T04:09Z","f":3.42e-8},{"t":"2022-09-07T04:18Z","f":2.81e-8},{"t":"2022-09-07T04:28Z","f":2.68e-8},{"t":"2022-09-07T04:33Z","f":2.2e-8},
      {"t":"2022-09-07T04:36Z","f":1e-10},{"t":"2022-09-07T05:22Z","f":1e-10},{"t":"2022-09-07T05:24Z","f":2.2e-8},{"t":"2022-09-07T05:38Z","f":2.43e-8},
      {"t":"2022-09-07T05:47Z","f":2.68e-8},{"t":"2022-09-07T05:56Z","f":2.95e-8},{"t":"2022-09-07T06:05Z","f":2.43e-8},{"t":"2022-09-07T06:15Z","f":1.99e-8},
      {"t":"2022-09-07T06:24Z","f":2.68e-8},{"t":"2022-09-07T06:27Z","f":9.06e-9},{"t":"2022-09-07T06:33Z","f":1.8e-8},{"t":"2022-09-07T06:43Z","f":1.56e-8},
      {"t":"2022-09-07T06:52Z","f":1.56e-8},{"t":"2022-09-07T06:59Z","f":1.22e-8},{"t":"2022-09-07T07:06Z","f":6.12e-9},{"t":"2022-09-07T07:13Z","f":9.06e-9},
      {"t":"2022-09-07T07:23Z","f":1.05e-8},{"t":"2022-09-07T07:29Z","f":1.8e-8},{"t":"2022-09-07T07:36Z","f":1.99e-8},{"t":"2022-09-07T07:43Z","f":1.16e-8},
      {"t":"2022-09-07T07:50Z","f":6.43e-9},{"t":"2022-09-07T07:57Z","f":1.28e-8},{"t":"2022-09-07T08:07Z","f":1.22e-8},{"t":"2022-09-07T08:16Z","f":1.34e-8},
      {"t":"2022-09-07T08:22Z","f":1.72e-8},{"t":"2022-09-07T08:30Z","f":1.28e-8},{"t":"2022-09-07T08:39Z","f":1.16e-8},{"t":"2022-09-07T08:49Z","f":1.16e-8},
      {"t":"2022-09-07T08:58Z","f":1.22e-8},{"t":"2022-09-07T09:07Z","f":9.06e-9},{"t":"2022-09-07T09:15Z","f":6.43e-9},{"t":"2022-09-07T09:21Z","f":1.05e-8},
      {"t":"2022-09-07T09:26Z","f":3.74e-9},{"t":"2022-09-07T09:35Z","f":1.28e-8},{"t":"2022-09-07T09:44Z","f":1.99e-8},{"t":"2022-09-07T09:52Z","f":2.09e-8},
      {"t":"2022-09-07T09:58Z","f":1.22e-8},{"t":"2022-09-07T10:03Z","f":7.45e-9},{"t":"2022-09-07T10:10Z","f":3.08e-9},{"t":"2022-09-07T10:14Z","f":1e-8},
      {"t":"2022-09-07T10:22Z","f":7.45e-9},{"t":"2022-09-07T10:31Z","f":9.06e-9},{"t":"2022-09-07T10:40Z","f":7.45e-9},{"t":"2022-09-07T10:50Z","f":1.48e-8},
      {"t":"2022-09-07T10:57Z","f":6.12e-9},{"t":"2022-09-07T11:04Z","f":3.08e-9},{"t":"2022-09-07T11:08Z","f":9.06e-9},{"t":"2022-09-07T11:18Z","f":1.1e-8},
      {"t":"2022-09-07T11:27Z","f":1.22e-8},{"t":"2022-09-07T11:36Z","f":1.48e-8},{"t":"2022-09-07T11:46Z","f":1.64e-8},{"t":"2022-09-07T11:55Z","f":1.8e-8},
      {"t":"2022-09-07T12:04Z","f":1.99e-8},{"t":"2022-09-07T12:14Z","f":2.09e-8},{"t":"2022-09-07T12:23Z","f":2.2e-8},{"t":"2022-09-07T12:32Z","f":2.55e-8},
      {"t":"2022-09-07T12:42Z","f":2.81e-8},{"t":"2022-09-07T12:51Z","f":3.6e-8},{"t":"2022-09-07T13:00Z","f":2.81e-8},{"t":"2022-09-07T13:10Z","f":3.26e-8},
      {"t":"2022-09-07T13:19Z","f":3.78e-8},{"t":"2022-09-07T13:28Z","f":3.26e-8},{"t":"2022-09-07T13:40Z","f":4.3e-8},{"t":"2022-09-07T13:47Z","f":3.42e-8},
      {"t":"2022-09-07T13:56Z","f":2.95e-8},{"t":"2022-09-07T14:05Z","f":2.81e-8},{"t":"2022-09-07T14:15Z","f":2.68e-8},{"t":"2022-09-07T14:24Z","f":2.55e-8},
      {"t":"2022-09-07T14:38Z","f":2.68e-8},{"t":"2022-09-07T14:47Z","f":2.95e-8},{"t":"2022-09-07T14:57Z","f":2.55e-8},{"t":"2022-09-07T15:06Z","f":2.55e-8},
      {"t":"2022-09-07T15:15Z","f":1.99e-8},{"t":"2022-09-07T15:20Z","f":1.48e-8},{"t":"2022-09-07T15:29Z","f":1.8e-8},{"t":"2022-09-07T15:39Z","f":1.22e-8},
      {"t":"2022-09-07T15:43Z","f":9.06e-9},{"t":"2022-09-07T15:51Z","f":2.95e-8},{"t":"2022-09-07T15:57Z","f":4.17e-8},{"t":"2022-09-07T16:05Z","f":3.6e-8},
      {"t":"2022-09-07T16:11Z","f":1.99e-8},{"t":"2022-09-07T16:18Z","f":1.8e-8},{"t":"2022-09-07T16:25Z","f":1.64e-8},{"t":"2022-09-07T16:35Z","f":1.1e-8},
      {"t":"2022-09-07T16:44Z","f":5.55e-9},{"t":"2022-09-07T16:53Z","f":7.45e-9},{"t":"2022-09-07T17:01Z","f":1.48e-8},{"t":"2022-09-07T17:07Z","f":1.99e-8},
      {"t":"2022-09-07T17:14Z","f":4.83e-8},{"t":"2022-09-07T17:19Z","f":1e-8},{"t":"2022-09-07T17:23Z","f":3.39e-9},{"t":"2022-09-07T17:29Z","f":8.22e-9},
      {"t":"2022-09-07T17:32Z","f":2.78e-9},{"t":"2022-09-07T17:37Z","f":5e-10},{"t":"2022-09-07T17:42Z","f":1.48e-8},{"t":"2022-09-07T17:49Z","f":7.45e-9},
      {"t":"2022-09-07T17:54Z","f":2.52e-9},{"t":"2022-09-07T17:58Z","f":8.22e-9},{"t":"2022-09-07T18:03Z","f":6.07e-8},{"t":"2022-09-07T18:08Z","f":6.75e-9},
      {"t":"2022-09-07T18:13Z","f":5e-10},{"t":"2022-09-07T18:20Z","f":3.74e-9},{"t":"2022-09-07T18:25Z","f":8.22e-9},{"t":"2022-09-07T18:31Z","f":5e-10},
      {"t":"2022-09-07T18:36Z","f":1e-8},{"t":"2022-09-07T18:40Z","f":3.26e-8},{"t":"2022-09-07T18:45Z","f":1.48e-8},{"t":"2022-09-07T18:50Z","f":5e-10},
      {"t":"2022-09-07T18:54Z","f":1.8e-8},{"t":"2022-09-07T18:59Z","f":3.26e-8},{"t":"2022-09-07T19:04Z","f":1.7e-9},{"t":"2022-09-07T19:08Z","f":2.68e-8},
      {"t":"2022-09-07T19:13Z","f":5e-10},{"t":"2022-09-07T19:18Z","f":3.26e-8},{"t":"2022-09-07T19:22Z","f":2.52e-9},{"t":"2022-09-07T19:27Z","f":1.8e-8},
      {"t":"2022-09-07T19:32Z","f":3.26e-8},{"t":"2022-09-07T19:36Z","f":3.97e-8},{"t":"2022-09-07T19:41Z","f":9.06e-9},{"t":"2022-09-07T19:46Z","f":2.52e-9},
      {"t":"2022-09-07T19:50Z","f":2.68e-8},{"t":"2022-09-07T19:58Z","f":9.06e-9},{"t":"2022-09-07T20:04Z","f":3.97e-8},{"t":"2022-09-07T20:14Z","f":1.99e-8},
      {"t":"2022-09-07T20:23Z","f":3.97e-8},{"t":"2022-09-07T20:32Z","f":1.8e-8},{"t":"2022-09-07T20:42Z","f":3.26e-8},{"t":"2022-09-07T20:51Z","f":2.2e-8},
      {"t":"2022-09-07T21:00Z","f":3.26e-8},{"t":"2022-09-07T21:10Z","f":1.48e-8},{"t":"2022-09-07T21:19Z","f":2.55e-8},{"t":"2022-09-07T21:28Z","f":1.99e-8},
      {"t":"2022-09-07T21:37Z","f":2.95e-8},{"t":"2022-09-07T21:47Z","f":2.2e-8},{"t":"2022-09-07T21:56Z","f":2.55e-8},{"t":"2022-09-07T22:05Z","f":3.42e-8},
      {"t":"2022-09-07T22:15Z","f":3.6e-8},{"t":"2022-09-07T22:24Z","f":3.26e-8},{"t":"2022-09-07T22:33Z","f":3.6e-8},{"t":"2022-09-07T22:43Z","f":3.26e-8},
      {"t":"2022-09-07T22:47Z","f":3.6e-8},{"t":"2022-09-07T22:57Z","f":2.43e-8},{"t":"2022-09-07T23:03Z","f":1.8e-8},{"t":"2022-09-07T23:11Z","f":1.99e-8},
      {"t":"2022-09-07T23:20Z","f":1.56e-8},{"t":"2022-09-07T23:23Z","f":8.22e-9},{"t":"2022-09-07T23:29Z","f":1.99e-8},{"t":"2022-09-07T23:31Z","f":7.45e-9},
      {"t":"2022-09-07T23:34Z","f":1.16e-8}
    ],
    "days": [{"t":"2022-09-06T00:00Z"},{"t":"2022-09-07T00:00Z"}],
    "note": [{"t":"2022-09-07T22:14Z","f":1.7e-9,"label":"Generated : 07-Sep-2022 23:35 UTC"}],
    "classes": [{"f":3e-8},{"f":3e-7},{"f":3e-6},{"f":3e-5},{"f":3e-4}]
  },
  "layer": [
    {
      "data": {"name": "long"},
      "mark": {"type": "line", "strokeWidth": 1.5, "clip": true},
      "encoding": {
        "x": {
          "field": "t", "type": "temporal",
          "scale": {"type": "utc", "domain": [{"year": 2022, "month": 9, "date": 5, "utc": true}, {"year": 2022, "month": 9, "date": 8, "utc": true}]},
          "axis": {
            "values": [
              {"year": 2022, "month": 9, "date": 5, "hours": 0, "utc": true},
              {"year": 2022, "month": 9, "date": 5, "hours": 8, "utc": true},
              {"year": 2022, "month": 9, "date": 5, "hours": 16, "utc": true},
              {"year": 2022, "month": 9, "date": 6, "hours": 0, "utc": true},
              {"year": 2022, "month": 9, "date": 6, "hours": 8, "utc": true},
              {"year": 2022, "month": 9, "date": 6, "hours": 16, "utc": true},
              {"year": 2022, "month": 9, "date": 7, "hours": 0, "utc": true},
              {"year": 2022, "month": 9, "date": 7, "hours": 8, "utc": true},
              {"year": 2022, "month": 9, "date": 7, "hours": 16, "utc": true},
              {"year": 2022, "month": 9, "date": 8, "hours": 0, "utc": true}
            ],
            "labelExpr": "utcFormat(datum.value, '%H') == '00' ? [utcFormat(datum.value, '%H:%M'), utcFormat(datum.value, '%b %d')] : utcFormat(datum.value, '%H:%M')",
            "tickSize": -8,
            "labelPadding": 14,
            "labelFlush": false,
            "labelOverlap": false,
            "labelLineHeight": 23,
            "title": "Time (UTC)",
            "titlePadding": 5
          }
        },
        "y": {
          "field": "f", "type": "quantitative",
          "scale": {"type": "log", "domain": [1.02e-9, 0.0096]},
          "axis": {
            "orient": "left",
            "values": [1e-8, 1e-7, 1e-6, 1e-5, 1e-4, 1e-3],
            "labelExpr": "datum.value > 5e-4 ? '10⁻³' : datum.value > 5e-5 ? '10⁻⁴' : datum.value > 5e-6 ? '10⁻⁵' : datum.value > 5e-7 ? '10⁻⁶' : datum.value > 5e-8 ? '10⁻⁷' : '10⁻⁸'",
            "tickSize": -10,
            "labelPadding": 16,
            "labelOverlap": false,
            "labelFlush": false,
            "grid": true,
            "gridColor": "#b0b0b0",
            "gridWidth": 1.2,
            "title": "Flux (Watts · m⁻²)",
            "titlePadding": 14
          }
        },
        "color": {
          "datum": "GOES 1.0-8.0 Å",
          "type": "nominal",
          "scale": {"domain": ["GOES 1.0-8.0 Å", "GOES 0.5-4.0 Å"], "range": ["#ff0000", "#0000ff"]},
          "legend": {
            "orient": "none", "legendX": 751, "legendY": 5, "direction": "horizontal",
            "title": null, "symbolType": "stroke", "symbolSize": 841, "symbolStrokeWidth": 1.5,
            "labelFontSize": 15, "labelFont": "DejaVu Sans", "labelColor": "black", "labelOffset": 11,
            "columnPadding": 12, "padding": 5, "strokeColor": "#d0d0d0", "fillColor": "white", "cornerRadius": 3
          }
        }
      }
    },
    {
      "data": {"name": "short"},
      "mark": {"type": "line", "strokeWidth": 1.5, "clip": true},
      "encoding": {
        "x": {"field": "t", "type": "temporal"},
        "y": {
          "field": "f", "type": "quantitative",
          "axis": {
            "orient": "left",
            "values": [2e-9,3e-9,4e-9,5e-9,6e-9,7e-9,8e-9,9e-9,2e-8,3e-8,4e-8,5e-8,6e-8,7e-8,8e-8,9e-8,2e-7,3e-7,4e-7,5e-7,6e-7,7e-7,8e-7,9e-7,2e-6,3e-6,4e-6,5e-6,6e-6,7e-6,8e-6,9e-6,2e-5,3e-5,4e-5,5e-5,6e-5,7e-5,8e-5,9e-5,2e-4,3e-4,4e-4,5e-4,6e-4,7e-4,8e-4,9e-4,2e-3,3e-3,4e-3,5e-3,6e-3,7e-3,8e-3,9e-3],
            "labels": false, "tickSize": -7, "grid": false, "title": null
          }
        },
        "color": {"datum": "GOES 0.5-4.0 Å", "type": "nominal"}
      }
    },
    {
      "data": {"name": "days"},
      "mark": {"type": "rule", "color": "black", "strokeWidth": 1.3},
      "encoding": {"x": {"field": "t", "type": "temporal"}}
    },
    {
      "data": {"name": "note"},
      "mark": {"type": "text", "align": "right", "baseline": "middle", "fontSize": 11.5, "font": "DejaVu Sans", "color": "#222222"},
      "encoding": {
        "x": {"field": "t", "type": "temporal"},
        "y": {
          "field": "f", "type": "quantitative",
          "axis": {"orient": "right", "values": [1e-8, 1e-7, 1e-6, 1e-5, 1e-4, 1e-3], "labels": false, "tickSize": -10, "grid": false, "title": null}
        },
        "text": {"field": "label"}
      }
    },
    {
      "data": {"name": "classes"},
      "mark": {"type": "point", "opacity": 0},
      "encoding": {
        "y": {
          "field": "f", "type": "quantitative",
          "axis": {
            "orient": "right",
            "values": [2e-9,3e-9,4e-9,5e-9,6e-9,7e-9,8e-9,9e-9,2e-8,3e-8,4e-8,5e-8,6e-8,7e-8,8e-8,9e-8,2e-7,3e-7,4e-7,5e-7,6e-7,7e-7,8e-7,9e-7,2e-6,3e-6,4e-6,5e-6,6e-6,7e-6,8e-6,9e-6,2e-5,3e-5,4e-5,5e-5,6e-5,7e-5,8e-5,9e-5,2e-4,3e-4,4e-4,5e-4,6e-4,7e-4,8e-4,9e-4,2e-3,3e-3,4e-3,5e-3,6e-3,7e-3,8e-3,9e-3],
            "labelExpr": "datum.value > 2.9e-8 && datum.value < 3.1e-8 ? 'A' : datum.value > 2.9e-7 && datum.value < 3.1e-7 ? 'B' : datum.value > 2.9e-6 && datum.value < 3.1e-6 ? 'C' : datum.value > 2.9e-5 && datum.value < 3.1e-5 ? 'M' : datum.value > 2.9e-4 && datum.value < 3.1e-4 ? 'X' : ''",
            "tickSize": -7,
            "labelPadding": 13,
            "labelOverlap": false,
            "labelFlush": false,
            "grid": false,
            "title": "GOES Class",
            "titleAngle": 270,
            "titlePadding": 26
          }
        }
      }
    }
  ],
  "resolve": {"axis": {"y": "independent"}},
  "config": {
    "font": "DejaVu Sans",
    "view": {"stroke": "black", "strokeWidth": 1.3},
    "axis": {
      "domain": false,
      "tickColor": "black",
      "tickWidth": 1,
      "labelColor": "black",
      "titleColor": "black",
      "labelFont": "DejaVu Sans",
      "titleFont": "DejaVu Sans",
      "titleFontWeight": "normal",
      "labelFontSize": 20,
      "titleFontSize": 20,
      "grid": false
    }
  }
}
